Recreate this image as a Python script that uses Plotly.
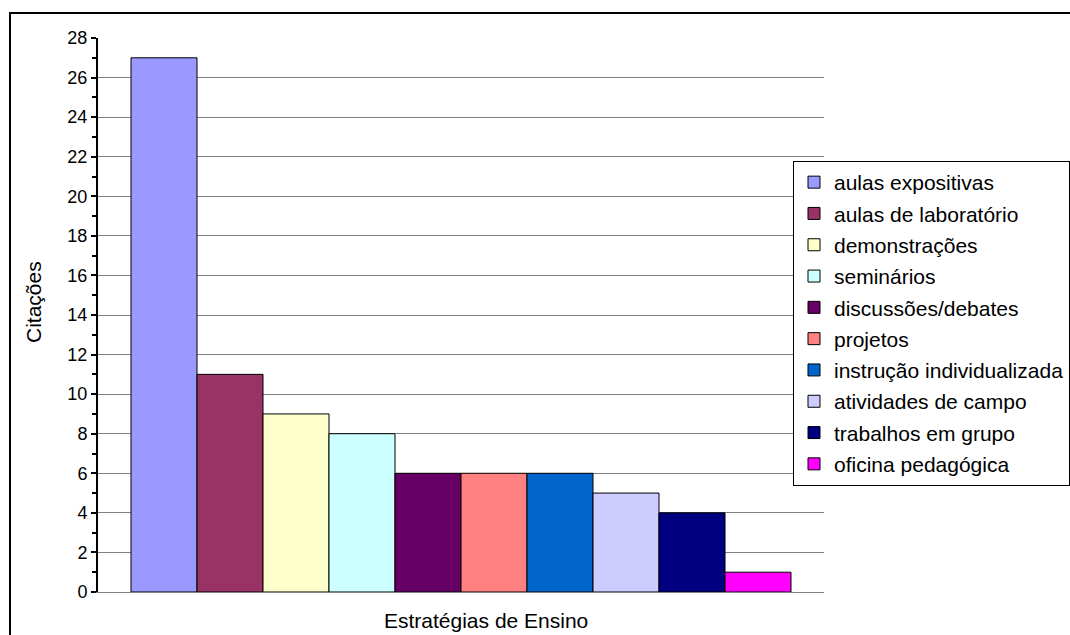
import plotly.graph_objects as go

categories = ["aulas expositivas", "aulas de laboratório", "demonstrações", "seminários",
              "discussões/debates", "projetos", "instrução individualizada",
              "atividades de campo", "trabalhos em grupo", "oficina pedagógica"]
values = [27, 11, 9, 8, 6, 6, 6, 5, 4, 1]
colors = ["#9999FF", "#993366", "#FFFFCC", "#CCFFFF", "#660066",
          "#FF8080", "#0066CC", "#CCCCFF", "#000080", "#FF00FF"]
x_title = "Estratégias de Ensino"
y_title = "Citações"
y_ticks = list(range(0, 29, 2))

W, H = 1070, 635
L, R, T, B = 98, 246, 38, 43
pw, ph = W - L - R, H - T - B

def px_x(x):
    return (x - L) / pw

def px_y(y):
    return 1 - (y - T) / ph

fig = go.Figure()
for i, (c, v, col) in enumerate(zip(categories, values, colors)):
    fig.add_trace(go.Bar(
        x=[x_title], y=[v], name=c, legendgroup=f"g{i}",
        marker=dict(color=col, line=dict(color="black", width=1)),
        hoverinfo="skip",
    ))

font = "Liberation Sans, Arial, sans-serif"
fig.update_layout(
    width=W, height=H,
    margin=dict(l=L, r=R, t=T, b=B, pad=0, autoexpand=False),
    paper_bgcolor="white", plot_bgcolor="white",
    barmode="group", bargap=66 / pw, bargroupgap=0,
    font=dict(family=font, size=18, color="black"),
    showlegend=True,
    legend=dict(
        x=px_x(793), y=px_y(161), xanchor="left", yanchor="top",
        bordercolor="black", borderwidth=1, bgcolor="white",
        font=dict(family=font, size=21, color="black"),
        tracegroupgap=1, traceorder="grouped", itemwidth=30,
    ),
    xaxis=dict(
        showticklabels=False, ticks="", showgrid=False,
        showline=True, linecolor="#808080", linewidth=1,
        fixedrange=True,
    ),
    yaxis=dict(
        range=[0, 28], tickvals=y_ticks, ticks="outside", ticklen=5, tickwidth=2,
        tickcolor="black", showline=True, linecolor="black", linewidth=2,
        showgrid=True, gridcolor="#808080", gridwidth=1, zeroline=False,
        minor=dict(dtick=1, ticks="outside", ticklen=4, tickwidth=2, tickcolor="black", showgrid=False),
        tickfont=dict(size=18),
        fixedrange=True,
    ),
    annotations=[
        dict(text=x_title, xref="paper", yref="paper", x=px_x(486), y=px_y(620),
             showarrow=False, xanchor="center", yanchor="middle", font=dict(size=21)),
        dict(text=y_title, xref="paper", yref="paper", x=px_x(33), y=px_y(302),
             showarrow=False, xanchor="center", yanchor="middle", textangle=-90,
             font=dict(size=21)),
    ],
)

# outer chart frame
fig.add_shape(type="rect", xref="paper", yref="paper",
              x0=px_x(10), x1=px_x(W + 20),
              y0=px_y(H + 20), y1=px_y(13),
              line=dict(color="black", width=2), fillcolor="rgba(0,0,0,0)", layer="above")

fig.write_html("out.html")
